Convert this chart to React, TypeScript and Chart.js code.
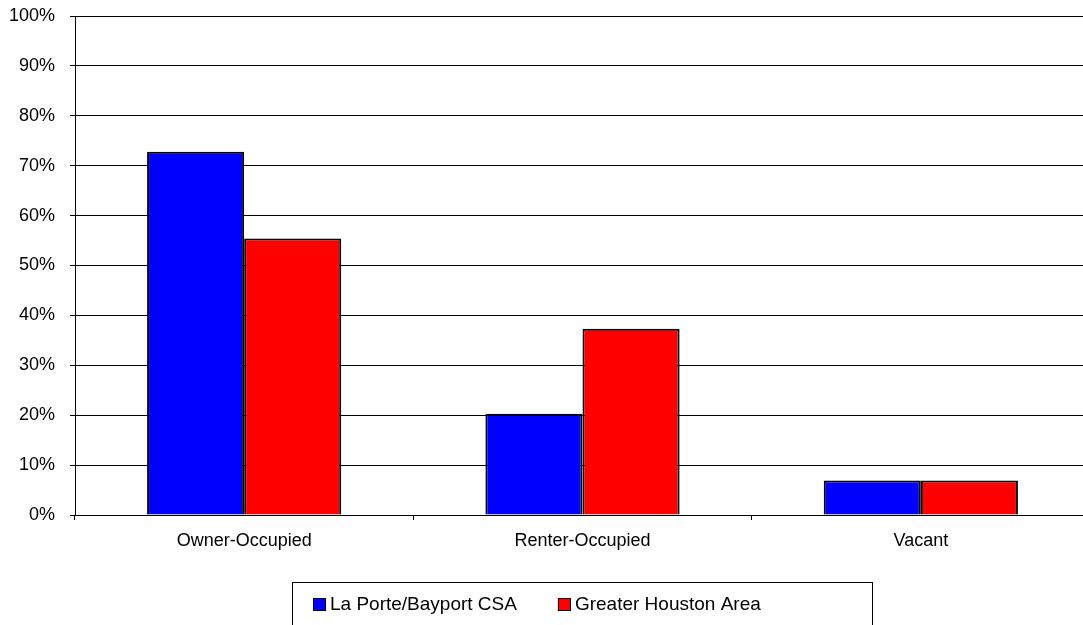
import React, { useEffect, useRef } from "react";
import { Chart, registerables } from "chart.js";

Chart.register(...registerables);

const categories = ["Owner-Occupied", "Renter-Occupied", "Vacant"];
const laPorte = [72.8, 20.3, 6.9];
const houston = [55.4, 37.3, 6.9];
const seriesNames = ["La Porte/Bayport CSA", "Greater Houston Area"];
const seriesColors = ["#0000FF", "#FF0000"];

const FONT = "'Liberation Sans', Arial, sans-serif";

const legendPlugin = {
  id: "boxLegend",
  afterDraw(chart: any) {
    const ctx = chart.ctx;
    ctx.save();
    ctx.strokeStyle = "#000";
    ctx.lineWidth = 1;
    ctx.strokeRect(292.5, 582.5, 580, 60);
    ctx.font = `19px ${FONT}`;
    ctx.textBaseline = "middle";
    let x = 313;
    const y = 604;
    chart.data.datasets.forEach((ds: any) => {
      ctx.fillStyle = ds.backgroundColor;
      ctx.fillRect(x, y - 6, 13, 13);
      ctx.strokeStyle = "#000";
      ctx.strokeRect(x + 0.5, y - 5.5, 12, 12);
      ctx.fillStyle = "#000";
      ctx.fillText(ds.label, x + 17, y + 1);
      x += 17 + ctx.measureText(ds.label).width + 41;
    });
    ctx.restore();
  },
};

export default function App() {
  const ref = useRef<HTMLCanvasElement | null>(null);
  useEffect(() => {
    if (!ref.current) return;
    const chart = new Chart(ref.current, {
      type: "bar",
      data: {
        labels: categories,
        datasets: [
          {
            label: seriesNames[0],
            data: laPorte,
            backgroundColor: seriesColors[0],
            borderColor: "#000",
            borderWidth: 2,
          },
          {
            label: seriesNames[1],
            data: houston,
            backgroundColor: seriesColors[1],
            borderColor: "#000",
            borderWidth: 2,
          },
        ],
      },
      options: {
        responsive: false,
        animation: false,
        devicePixelRatio: 1,
        layout: { padding: { top: 16, left: 0, right: 0, bottom: 0 } },
        datasets: { bar: { categoryPercentage: 0.574, barPercentage: 1 } },
        plugins: {
          legend: { display: false },
          tooltip: { enabled: false },
        },
        scales: {
          x: {
            afterFit: (s: any) => {
              s.height = 110;
              s.paddingLeft = 0;
              s.paddingRight = 0;
            },
            grid: {
              offset: true,
              drawOnChartArea: false,
              drawTicks: true,
              tickLength: 5,
              color: "#000",
            },
            border: { color: "#000", width: 1 },
            ticks: {
              color: "#000",
              font: { family: FONT, size: 18 },
              padding: 10,
              maxRotation: 0,
            },
          },
          y: {
            min: 0,
            max: 100,
            afterFit: (s: any) => {
              s.width = 75;
              s.paddingTop = 0;
              s.paddingBottom = 0;
            },
            grid: {
              color: "#000",
              drawTicks: true,
              tickLength: 5,
            },
            border: { color: "#000", width: 1 },
            ticks: {
              stepSize: 10,
              color: "#000",
              font: { family: FONT, size: 18 },
              padding: 15,
              callback: (v: any) => `${v}%`,
            },
          },
        },
      },
      plugins: [legendPlugin],
    });
    return () => chart.destroy();
  }, []);

  return (
    <div
      style={{
        position: "fixed",
        left: 0,
        top: 0,
        width: 1083,
        height: 625,
        overflow: "hidden",
        background: "#fff",
      }}
    >
      <canvas ref={ref} width={1090} height={625} style={{ width: 1090, height: 625, display: "block" }} />
    </div>
  );
}
